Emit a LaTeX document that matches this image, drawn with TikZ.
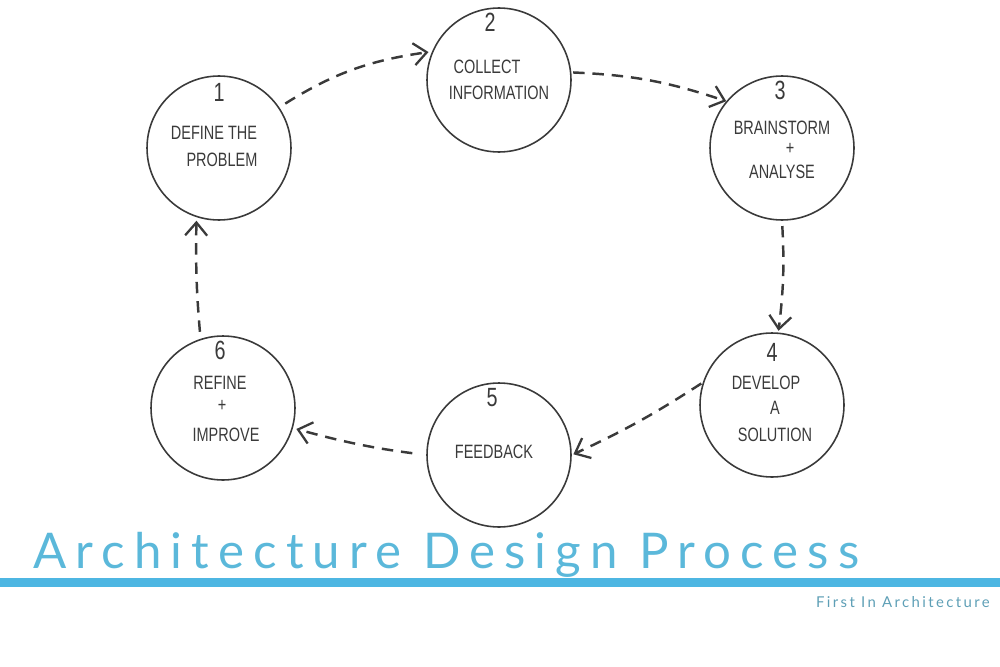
\documentclass[tikz,border=0pt]{standalone}
\usepackage{fontspec}
\setmainfont{Liberation Sans}
\newfontfamily\handfont[FakeStretch=0.75]{Liberation Sans}
\newfontfamily\titlefont[LetterSpace=18.5]{Lato}
\newfontfamily\smallfont[LetterSpace=16]{Lato}
\usetikzlibrary{arrows.meta}
\definecolor{ink}{HTML}{3A3A3A}
\definecolor{titleblue}{HTML}{5BB8DA}
\definecolor{barblue}{HTML}{4DB6E2}
\definecolor{subblue}{HTML}{5E9FB6}
\tikzset{
  stage/.style={circle, draw=ink, line width=0.9pt, minimum size=2.88cm, inner sep=0pt},
  lbl/.style={font=\handfont\fontsize{11}{12}\selectfont, text=ink, inner sep=0pt},
  num/.style={font=\handfont\fontsize{15}{16}\selectfont, text=ink, inner sep=0pt},
  flow/.style={draw=ink, line width=1.4pt, dash pattern=on 6.5pt off 4.5pt,
    -{Straight Barb[length=2.6mm,width=4.4mm,line width=1.3pt]}}
}
\begin{document}
\begin{tikzpicture}[x=0.02cm,y=-0.02cm]
\useasboundingbox (0,0) rectangle (1000,666);
% circles
\node[stage] (c1) at (219,148) {};
\node[stage] (c2) at (499,80) {};
\node[stage] (c3) at (782,148) {};
\node[stage] (c4) at (772,405) {};
\node[stage] (c5) at (499,455) {};
\node[stage] (c6) at (223,408) {};
% numbers
\node[num] (n1) at (219,92) {1};
\node[num] (n2) at (490,22) {2};
\node[num] (n3) at (780,90) {3};
\node[num] (n4) at (772,352) {4};
\node[num] (n5) at (492,398) {5};
\node[num] (n6) at (220,350) {6};
% labels
\node[lbl] (l1a) at (214,133) {DEFINE THE};
\node[lbl] (l1b) at (222,160) {PROBLEM};
\node[lbl] (l2a) at (487,67) {COLLECT};
\node[lbl] (l2b) at (499,93) {INFORMATION};
\node[lbl] (l3a) at (782,128) {BRAINSTORM};
\node[lbl] (l3b) at (790,149) {+};
\node[lbl] (l3c) at (782,172) {ANALYSE};
\node[lbl] (l4a) at (766,383) {DEVELOP};
\node[lbl] (l4b) at (775,408) {A};
\node[lbl] (l4c) at (775,435) {SOLUTION};
\node[lbl] (l5a) at (494,452) {FEEDBACK};
\node[lbl] (l6a) at (220,383) {REFINE};
\node[lbl] (l6b) at (222,406) {+};
\node[lbl] (l6c) at (226,435) {IMPROVE};
% connectors
\draw[flow, shorten <=4pt, shorten >=2pt] (c1.34) to[bend left=12] (c2.157);
\draw[flow, shorten <=1pt, shorten >=0pt] (c2.6) to[bend left=8] (c3.140);
\draw[flow, shorten <=3pt, shorten >=1pt] (c3.270) to[bend left=5] (c4.85);
\draw[flow, shorten <=1pt, shorten >=1pt] (c4.162) to[bend left=4] (c5.0);
\draw[flow, shorten <=8pt, shorten >=2pt] (c5.180) to[bend left=4] (c6.-16);
\draw[flow, shorten <=4pt, shorten >=2pt] (c6.108) to[bend left=3] (c1.252);
% title and bar
\node[anchor=base west, inner sep=0pt, text=titleblue,
  font=\titlefont\fontsize{28}{30}\selectfont] (title) at (33,568) {Architecture Design Process};
\fill[barblue] (0,578) rectangle (1000,587);
\node[anchor=base east, inner sep=0pt, text=subblue,
  font=\smallfont\fontsize{8.5}{10}\selectfont] (sub) at (990,607) {First In Architecture};
\end{tikzpicture}
\end{document}
